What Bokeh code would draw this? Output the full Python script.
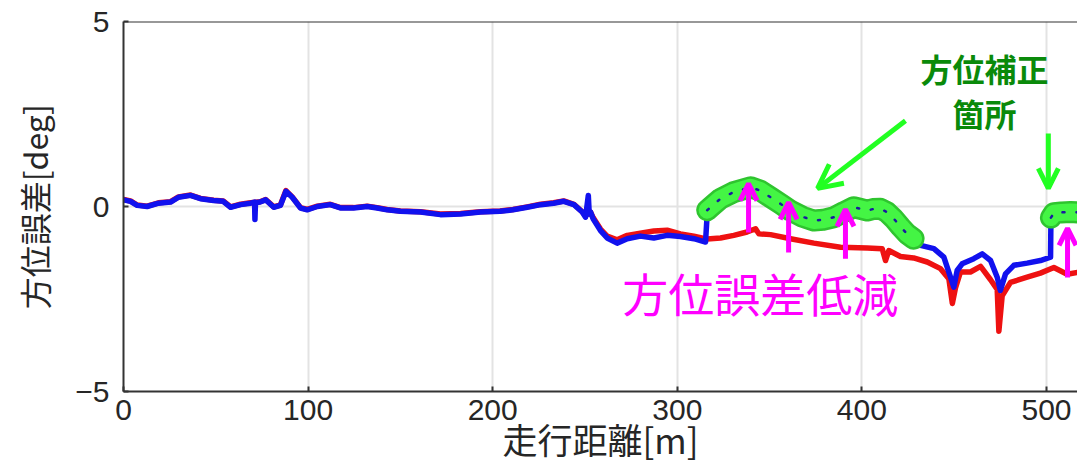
from bokeh.plotting import figure
from bokeh.models import Range1d, Span, Arrow, OpenHead, Label, FixedTicker
from bokeh.embed import file_html
from bokeh.resources import INLINE

# ---- data (distance [m], azimuth error [deg]) ----
before_x = [0, 3.8, 7.4, 12.8, 19, 25.5, 29.8, 36.3, 41.7, 48.8, 54, 58, 63.4, 68.8, 71, 71.2, 71.5,
            74, 77, 81.4, 85, 88, 91.4, 95.9, 99.5, 105, 112, 117.5, 124.6, 132, 137.4, 142.8, 150,
            160.9, 171.7, 182.6, 193.4, 204, 211, 218.7, 226, 233, 238.5, 244, 248.5, 250.3, 251.8,
            252.3, 253, 254.4, 258.4, 262, 267.4, 272.9, 280, 287.3, 294.5, 301.7, 309, 315.3, 316.2]
before_y = [0.18, 0.14, 0.03, 0.0, 0.09, 0.12, 0.25, 0.3, 0.21, 0.16, 0.14, -0.02, 0.05, 0.09, 0.12, -0.35, 0.1,
            0.12, 0.18, -0.02, 0.03, 0.41, 0.25, -0.04, -0.09, 0.0, 0.05, -0.04, -0.04, 0.0, -0.04, -0.09, -0.13,
            -0.15, -0.22, -0.2, -0.15, -0.13, -0.09, -0.02, 0.05, 0.09, 0.14, 0.05, -0.15, -0.29, 0.3,
            -0.2, -0.15, -0.33, -0.65, -0.85, -0.99, -0.87, -0.8, -0.85, -0.78, -0.81, -0.87, -0.96, -0.2]

corr1_x = [316.2, 318, 323.4, 330.6, 339.7, 345, 350.5, 356, 361.3, 368, 374, 379, 384.8, 390.2,
           395.6, 399, 402.9, 406, 410, 413.5, 417.3, 421, 424.5, 428]
corr1_y = [-0.1, -0.02, 0.21, 0.39, 0.52, 0.43, 0.25, 0.07, -0.11, -0.28, -0.38, -0.36, -0.29, -0.15,
           -0.02, -0.06, -0.11, -0.07, -0.06, -0.15, -0.33, -0.55, -0.74, -0.87]

after_x = [428, 431.8, 439, 444.4, 448, 449.8, 451.6, 454.3, 460.6, 465.2, 469.7, 473.3, 475, 477.8,
           482.3, 489.5, 496.7, 502.2, 502.4]
after_y = [-0.87, -1.05, -1.14, -1.37, -1.91, -2.18, -1.73, -1.55, -1.41, -1.28, -1.46, -1.91, -2.27, -1.82,
           -1.59, -1.53, -1.46, -1.37, -0.38]

corr2_x = [502.4, 504, 508, 513, 517]
corr2_y = [-0.3, -0.18, -0.16, -0.15, -0.16]

red_x = [0, 3.8, 7.4, 12.8, 19, 25.5, 29.8, 36.3, 41.7, 48.8, 54, 58, 63.4, 68.8, 74, 77, 81.4, 85,
         88, 91.4, 95.9, 99.5, 105, 112, 117.5, 124.6, 132, 137.4, 142.8, 150, 160.9, 171.7, 182.6,
         193.4, 204, 211, 218.7, 226, 233, 238.5, 244, 248.5, 250.3, 253, 254.4, 258.4, 262, 267.4,
         272.9, 280, 287.3, 294.5, 301.7, 309, 316.2, 323.4, 330.6, 337.8, 342.4, 344.2, 350.5, 361.3,
         374, 388.4, 402.9, 411, 412.8, 414.6, 420.9, 428, 435.4, 442.6, 447.1, 449, 450.7, 453.4,
         458.8, 464.3, 469.7, 473.3, 474.2, 476, 480.5, 489.5, 496.7, 504, 511.2, 517]
red_y = [0.19, 0.15, 0.04, 0.01, 0.1, 0.13, 0.26, 0.31, 0.22, 0.17, 0.15, -0.01, 0.06, 0.1, 0.13, 0.19,
         -0.01, 0.04, 0.43, 0.26, -0.03, -0.08, 0.01, 0.06, -0.03, -0.03, 0.01, -0.03, -0.08, -0.12, -0.14,
         -0.2, -0.19, -0.14, -0.12, -0.08, -0.01, 0.06, 0.1, 0.15, 0.06, -0.14, -0.25, -0.15, -0.3, -0.61,
         -0.8, -0.9, -0.78, -0.72, -0.66, -0.64, -0.74, -0.8, -0.88, -0.85, -0.78, -0.69, -0.6, -0.74, -0.76,
         -0.87, -0.99, -1.1, -1.12, -1.14, -1.46, -1.19, -1.35, -1.39, -1.5, -1.68, -1.95, -2.62, -2.2,
         -1.77, -1.77, -1.62, -1.98, -2.24, -3.37, -2.41, -2.05, -1.91, -1.8, -1.65, -1.83, -1.78]

x_ticks = [0, 100, 200, 300, 400, 500]
y_ticks = [-5, 0, 5]
y_tick_labels = {-5: "\u22125", 0: "0", 5: "5"}

blue_x = before_x + corr1_x[1:] + after_x[1:] + corr2_x[1:]
blue_y = before_y + corr1_y[1:] + after_y[1:] + corr2_y[1:]

JP = "Noto Sans CJK JP"
NUM = "Liberation Sans"

p = figure(width=1077, height=466, x_range=Range1d(0, 516.8), y_range=Range1d(-5, 5),
           output_backend="svg", toolbar_location=None,
           min_border_left=123, min_border_top=21, min_border_right=0, min_border_bottom=75)
p.outline_line_color = None
p.background_fill_color = "white"
p.border_fill_color = "white"

# grid
p.xgrid.ticker = FixedTicker(ticks=x_ticks)
p.ygrid.ticker = FixedTicker(ticks=y_ticks)
p.grid.grid_line_color = "#e3e3e3"
p.grid.grid_line_width = 2

# axes
for ax in (p.xaxis[0], p.yaxis[0]):
    ax.axis_line_color = "#333333"
    ax.axis_line_width = 2
    ax.major_tick_line_color = "#333333"
    ax.major_tick_line_width = 2
    ax.major_tick_in = 5
    ax.major_tick_out = 0
    ax.minor_tick_line_color = None
    ax.major_label_text_font = NUM
    ax.major_label_text_font_size = "30px"
    ax.major_label_text_color = "#262626"
    ax.axis_label_text_font = JP
    ax.axis_label_text_font_style = "normal"
    ax.axis_label_text_color = "#262626"

p.xaxis.axis_label_text_font_size = "35px"
p.yaxis.axis_label_text_font_size = "32px"
p.xaxis.ticker = FixedTicker(ticks=x_ticks)
p.yaxis.ticker = FixedTicker(ticks=y_ticks)
p.yaxis.major_label_overrides = y_tick_labels
p.xaxis.axis_label = "走行距離[m]"
p.yaxis.axis_label = "方位誤差[deg]"
p.xaxis.major_label_standoff = 8
p.xaxis.axis_label_standoff = -10
p.yaxis.major_label_standoff = 14
p.yaxis.axis_label_standoff = 15

p.add_layout(Span(location=5, dimension="width", line_color="#333333", line_width=2))

# data lines
p.line(red_x, red_y, line_width=5.5, color="#ee1111", line_join="round")
p.line(blue_x, blue_y, line_width=5.5, color="#1111ee", line_join="round")

# corrected segments (green)
for gx, gy in ((corr1_x, corr1_y), (corr2_x, corr2_y)):
    p.line(gx, gy, line_width=22, color="#2fc42f", line_cap="round", line_join="round")
    p.line(gx, gy, line_width=17, color="#44f544", line_cap="round", line_join="round")
    p.line(gx, gy, line_width=2.5, color="#1a1aa0", line_dash="2 12", line_cap="round")

# annotations
GREEN = "#22ff22"
MAG = "#ff00ff"
p.add_layout(Arrow(x_start=423.6, y_start=2.32, x_end=376, y_end=0.49,
                   line_color=GREEN, line_width=5,
                   end=OpenHead(size=24, line_color=GREEN, line_width=5)))
p.add_layout(Arrow(x_start=501, y_start=1.97, x_end=501, y_end=0.49,
                   line_color=GREEN, line_width=5,
                   end=OpenHead(size=20, line_color=GREEN, line_width=5)))
for ax_, ys, ye in ((338.6, -0.7, 0.62), (360.3, -1.24, 0.11), (391.1, -1.41, -0.08), (511.4, -1.92, -0.59)):
    p.add_layout(Arrow(x_start=ax_, y_start=ys, x_end=ax_, y_end=ye,
                       line_color=MAG, line_width=5,
                       end=OpenHead(size=17, line_color=MAG, line_width=5)))

p.add_layout(Label(x=466.4, y=3.73, text="方位補正", text_font=JP, text_font_size="32px",
                   text_font_style="bold", text_color="#0a8a0a", text_align="center",
                   text_baseline="middle"))
p.add_layout(Label(x=466.4, y=2.54, text="箇所", text_font=JP, text_font_size="32px",
                   text_font_style="bold", text_color="#0a8a0a", text_align="center",
                   text_baseline="middle"))
p.add_layout(Label(x=345, y=-2.3, text="方位誤差低減", text_font=JP, text_font_size="46px",
                   text_color=MAG, text_align="center", text_baseline="middle"))

open("out.html", "w").write(file_html(p, INLINE))
